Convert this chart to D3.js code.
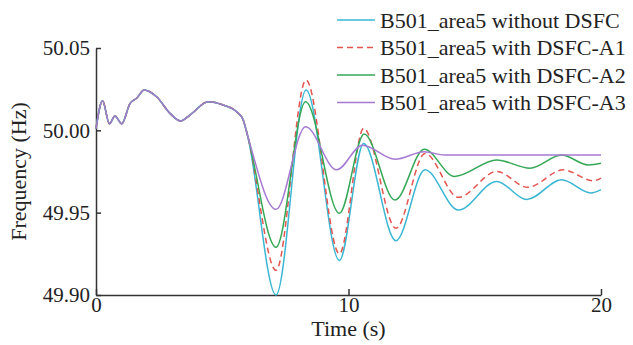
<!DOCTYPE html>
<html>
<head>
<meta charset="utf-8">
<script src="https://cdn.jsdelivr.net/npm/d3@7"></script>
<style>
  body { margin: 0; background: #fff; }
  svg text { font-family: "Liberation Serif", "Times New Roman", serif; fill: #222; }
</style>
</head>
<body>
<svg id="chart"></svg>
<script>
// shared pre-disturbance trace (t in s, f in Hz)
const preTrace = [
  [0, 50.001], [0.26, 50.018], [0.53, 50.004], [0.75, 50.0087], [1.02, 50.004],
  [1.35, 50.0164], [1.61, 50.0195], [1.91, 50.0245], [2.4, 50.0204], [2.93, 50.0103],
  [3.35, 50.0057], [3.72, 50.0093], [4.45, 50.0174], [5.04, 50.0154], [5.57, 50.0113],
  [5.83, 50.0063]
];

const withoutDsfc = [
  [6.0, 49.997], [7.13, 49.900], [8.32, 50.0245], [9.64, 49.921], [10.6, 49.992],
  [11.88, 49.933], [13.03, 49.976], [14.35, 49.9516], [15.87, 49.969], [17.06, 49.958],
  [18.44, 49.970], [19.6, 49.962], [20, 49.964]
];
const withA1 = [
  [6.0, 49.997], [7.13, 49.915], [8.32, 50.0306], [9.64, 49.925], [10.6, 50.0012],
  [11.88, 49.9405], [13.03, 49.986], [14.35, 49.9593], [15.87, 49.975], [17.1, 49.9654],
  [18.5, 49.976], [19.7, 49.9694], [20, 49.971]
];
const withA2 = [
  [6.0, 49.997], [7.13, 49.929], [8.3, 50.0174], [9.64, 49.9496], [10.62, 49.9978],
  [11.84, 49.9577], [13.0, 49.9885], [14.2, 49.972], [15.87, 49.982], [17.19, 49.977],
  [18.44, 49.985], [19.5, 49.979], [20, 49.980]
];
const withA3 = [
  [6.0, 49.997], [7.13, 49.952], [8.3, 50.0022], [9.53, 49.976], [10.55, 49.991],
  [11.84, 49.9824], [13.0, 49.987], [13.8, 49.985], [20, 49.985]
];

const seriesNames = [
  'B501_area5 without DSFC',
  'B501_area5 with DSFC-A1',
  'B501_area5 with DSFC-A2',
  'B501_area5 with DSFC-A3'
];
const seriesColors = ['#3ab6d3', '#e5554f', '#34a856', '#a67ad2'];
const seriesDash = [null, '6,4', null, null];
const seriesData = [withoutDsfc, withA1, withA2, withA3];

const xTicks = [0, 10, 20];
const yTicks = [49.90, 49.95, 50.00, 50.05];

const width = 633, height = 345;
const margin = { left: 96, right: 32, top: 48, bottom: 50 };

const svg = d3.select('#chart')
  .attr('width', width)
  .attr('height', height);

const x = d3.scaleLinear().domain([0, 20]).range([margin.left, width - margin.right]);
const y = d3.scaleLinear().domain([49.90, 50.05]).range([height - margin.bottom, margin.top]);

/* axes */
const xAxis = svg.append('g')
  .attr('transform', `translate(0,${y(49.90)})`)
  .call(d3.axisBottom(x).tickValues(xTicks).tickFormat(d3.format('d'))
    .tickSizeInner(-6).tickSizeOuter(0).tickPadding(4));
const yAxis = svg.append('g')
  .attr('transform', `translate(${x(0)},0)`)
  .call(d3.axisLeft(y).tickValues(yTicks).tickFormat(d3.format('.2f'))
    .tickSizeInner(-5).tickSizeOuter(0).tickPadding(6));

[xAxis, yAxis].forEach(ax => {
  ax.select('.domain').attr('stroke', '#333').attr('stroke-width', 1.5);
  ax.selectAll('.tick line').attr('stroke', '#333').attr('stroke-width', 1.5);
  ax.selectAll('.tick text')
    .attr('font-size', 21)
    .attr('font-family', '"Liberation Serif", "Times New Roman", serif')
    .attr('fill', '#222');
});
xAxis.selectAll('.tick text').attr('dy', '0.6em');

svg.append('text')
  .attr('x', (x(0) + x(20)) / 2)
  .attr('y', 336)
  .attr('text-anchor', 'middle')
  .attr('font-size', 22)
  .text('Time (s)');

svg.append('text')
  .attr('transform', `translate(26,${(y(49.90) + y(50.05)) / 2}) rotate(-90)`)
  .attr('text-anchor', 'middle')
  .attr('font-size', 22)
  .text('Frequency (Hz)');

/* lines */
const line = d3.line()
  .x(d => x(d[0]))
  .y(d => y(d[1]))
  .curve(d3.curveMonotoneX);

seriesData.forEach((data, i) => {
  svg.append('path')
    .datum(preTrace.concat(data))
    .attr('fill', 'none')
    .attr('stroke', seriesColors[i])
    .attr('stroke-width', 1.5)
    .attr('stroke-dasharray', seriesDash[i])
    .attr('d', line);
});

/* legend */
const legend = svg.append('g').attr('class', 'legend');
seriesNames.forEach((name, i) => {
  const ly = 20 + i * 27.5;
  legend.append('line')
    .attr('x1', 337).attr('x2', 375)
    .attr('y1', ly).attr('y2', ly)
    .attr('stroke', seriesColors[i])
    .attr('stroke-width', 1.5)
    .attr('stroke-dasharray', seriesDash[i]);
  legend.append('text')
    .attr('x', 380)
    .attr('y', ly)
    .attr('dy', '0.35em')
    .attr('font-size', 22)
    .text(name);
});
</script>
</body>
</html>
